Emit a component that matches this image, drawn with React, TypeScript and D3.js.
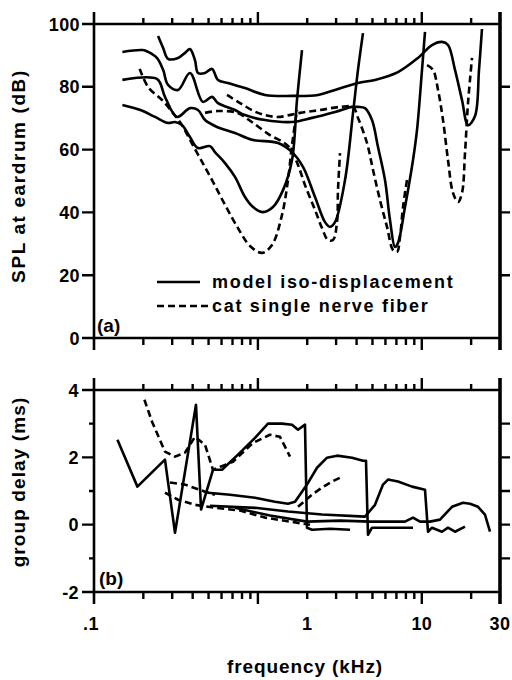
import React from "react";
import * as d3 from "d3";

type P = [number, number];

// ---------- Panel (a): SPL at eardrum (dB) vs frequency (kHz) ----------
const modelA1: P[] = [
  [0.246, 96.2], [0.264, 92.4], [0.283, 88.9], [0.326, 89.2], [0.359, 90.8], [0.385, 92.0],
  [0.413, 88.5], [0.431, 84.4], [0.476, 84.4], [0.525, 85.7], [0.571, 82.2], [0.657, 81.2],
  [0.834, 79.6], [1.105, 77.4], [1.615, 77.1], [2.327, 77.4], [2.954, 79.0], [4.08, 81.2],
  [5.182, 82.2], [7.158, 84.7], [9.48, 89.2], [11.54, 93.3], [13.28, 94.3], [14.45, 93.3],
  [15.94, 85.4], [17.59, 75.8], [19.14, 67.8], [21.12, 70.7], [22.34, 85.4], [23.29, 98.4],
];
const modelA2: P[] = [
  [0.149, 91.1], [0.198, 91.7], [0.214, 91.1], [0.242, 89.2], [0.264, 85.4], [0.283, 80.6],
  [0.326, 79.0], [0.385, 84.4], [0.462, 75.2], [0.525, 76.8], [0.571, 74.8], [0.725, 72.6],
  [0.834, 71.0], [1.105, 69.4], [1.615, 68.8], [2.138, 70.1], [2.954, 72.0], [3.752, 73.6],
  [4.08, 73.6], [4.502, 73.2], [4.968, 69.4], [5.405, 60.8], [5.963, 50.3], [6.397, 37.6],
  [6.862, 29.0], [7.158, 30.3], [7.898, 41.7], [8.838, 56.7], [9.348, 66.2], [10.03, 85.4],
  [10.46, 97.5],
];
const modelA3: P[] = [
  [0.149, 82.2], [0.242, 82.5], [0.271, 76.8], [0.321, 70.4], [0.385, 73.2], [0.431, 72.6],
  [0.476, 69.4], [0.563, 67.2], [0.725, 65.3], [0.921, 63.1], [1.326, 62.1], [1.615, 59.2],
  [1.884, 54.5], [2.231, 44.9], [2.567, 36.9], [2.754, 35.4], [2.954, 36.9], [3.4, 50.3],
  [3.805, 71.7], [4.08, 85.4], [4.377, 97.1],
];
const modelA4: P[] = [
  [0.149, 74.2], [0.192, 72.6], [0.236, 70.4], [0.283, 68.5], [0.312, 68.8], [0.344, 67.8],
  [0.385, 64.0], [0.431, 60.5], [0.51, 61.1], [0.547, 59.2], [0.63, 55.7], [0.725, 51.3],
  [0.834, 44.9], [0.934, 41.7], [1.074, 40.1], [1.236, 41.7], [1.423, 47.1], [1.615, 56.7],
  [1.732, 75.8], [1.858, 91.7],
];
const catA1: P[] = [
  [0.19, 85.7], [0.214, 79.9], [0.26, 75.8], [0.303, 71.7], [0.344, 67.8], [0.385, 63.1],
  [0.443, 57.3], [0.525, 50.3], [0.63, 42.4], [0.756, 35.0], [0.895, 29.3], [1.059, 27.1],
  [1.219, 29.6], [1.403, 39.2], [1.526, 50.3], [1.615, 61.5], [1.732, 72.6],
];
const catA2: P[] = [
  [0.648, 77.4], [0.778, 74.8], [1.001, 71.7], [1.308, 70.4], [1.807, 71.7], [2.393, 72.6],
  [3.169, 73.6], [3.805, 73.6], [4.08, 70.1], [4.63, 62.1], [5.039, 53.5], [5.559, 43.9],
  [6.133, 35.4], [6.672, 28.0], [7.058, 27.4], [7.362, 32.2], [7.679, 41.7], [8.123, 50.3],
];
const catA3: P[] = [
  [0.476, 71.7], [0.571, 72.3], [0.746, 71.7], [0.934, 68.5], [1.185, 64.6], [1.423, 62.4],
  [1.57, 60.5], [1.757, 55.1], [1.938, 48.7], [2.231, 40.8], [2.461, 35.0], [2.677, 31.2],
  [2.872, 31.2], [3.038, 36.9], [3.081, 47.1], [3.169, 58.9],
];
const catA4: P[] = [
  [10.76, 86.9], [11.7, 85.4], [12.56, 79.0], [13.47, 69.4], [14.45, 56.7], [15.5, 46.2],
  [16.63, 43.3], [17.59, 46.2], [18.35, 58.9], [19.14, 74.8], [20.25, 89.2],
];

// ---------- Panel (b): group delay (ms) vs frequency (kHz) ----------
const modelB1: P[] = [
  [0.139, 2.52], [0.184, 1.13], [0.271, 1.93], [0.312, -0.24], [0.419, 3.56], [0.45, 0.45],
  [0.532, 1.63], [0.604, 1.63], [0.756, 2.08], [0.96, 2.58], [1.152, 3.0], [1.403, 3.0],
  [1.615, 2.97], [1.757, 2.82], [1.938, 2.97], [1.993, -0.09], [2.138, -0.15], [2.754, -0.12],
  [3.648, -0.15],
];
const modelB2: P[] = [
  [0.496, 0.95], [0.676, 0.89], [0.96, 0.8], [1.271, 0.68], [1.526, 0.62], [1.684, 0.68],
  [1.858, 0.98], [1.993, 1.19], [2.294, 1.69], [2.64, 1.99], [3.038, 2.05], [3.752, 1.99],
  [4.377, 1.9], [4.566, 1.9], [4.695, -0.3], [4.968, -0.09], [6.397, -0.09], [8.838, -0.09],
];
const modelB3: P[] = [
  [0.51, 0.56], [0.96, 0.5], [1.526, 0.39], [2.461, 0.3], [4.502, 0.24], [5.182, 0.59],
  [5.798, 1.19], [6.219, 1.34], [7.158, 1.28], [8.714, 1.13], [10.46, 1.04], [10.91, -0.21],
  [11.54, -0.09], [13.28, -0.21], [14.45, -0.09], [15.94, -0.21], [18.35, -0.06],
];
const modelB4: P[] = [
  [0.725, 0.5], [1.185, 0.27], [1.993, 0.09], [3.169, 0.12], [4.831, 0.09], [7.898, 0.09],
  [8.838, 0.21], [9.75, 0.09], [11.22, 0.09], [12.91, 0.15], [15.29, 0.53], [17.84, 0.65],
  [19.69, 0.62], [22.03, 0.53], [24.29, 0.3], [26.07, -0.21],
];
const catB1: P[] = [
  [0.203, 3.71], [0.226, 3.06], [0.271, 2.17], [0.312, 2.02], [0.359, 2.14], [0.413, 2.61],
  [0.476, 2.37], [0.532, 1.63], [0.705, 1.87], [0.934, 2.43], [1.185, 2.67], [1.364, 2.61],
  [1.57, 2.02],
];
const catB2: P[] = [[0.291, 1.25], [0.359, 1.19], [0.476, 0.98], [0.547, 0.89]];
const catB3: P[] = [
  [0.271, 0.95], [0.326, 0.74], [0.413, 0.59], [0.547, 0.5], [0.778, 0.42], [1.105, 0.21],
  [1.57, 0.09], [2.079, 0.0],
];
const catB4: P[] = [[1.757, 0.53], [2.138, 0.89], [2.461, 1.1], [2.832, 1.28], [3.259, 1.42]];

// ---------- Axes ----------
const xMajor = [1, 10];
const xMinor = [0.2, 0.3, 0.4, 0.5, 0.6, 0.7, 0.8, 0.9, 2, 3, 4, 5, 6, 7, 8, 9, 20];
const xTickLabels = [
  { f: 0.1, t: ".1" },
  { f: 2, t: "1" },
  { f: 10, t: "10" },
  { f: 30, t: "30" },
];
const yTicksA = [0, 20, 40, 60, 80, 100];
const yRightA = [20, 40, 60, 80];
const yTicksB = [-2, 0, 2, 4];
const yMinorB = [-1, 1, 3];
const yRightB = [-1, 0, 1, 2, 3];

const FONT = "'Liberation Sans', Arial, Helvetica, sans-serif";

export default function App() {
  const x = d3.scaleLog().domain([0.1, 30]).range([94, 500]);
  const yA = d3.scaleLinear().domain([0, 100]).range([338, 24]);
  const yB = d3.scaleLinear().domain([-2, 4]).range([592, 390]);

  const lineA = d3
    .line<P>()
    .x((d) => x(d[0]))
    .y((d) => yA(d[1]))
    .curve(d3.curveCatmullRom.alpha(0.5));
  const lineB = d3
    .line<P>()
    .x((d) => x(d[0]))
    .y((d) => yB(d[1]));

  const xL = x(0.1);
  const xR = x(30);
  const lw = 2.6;

  const tickPath = (top: number, bottom: number) => {
    const p = d3.path();
    xMajor.forEach((f) => {
      const px = x(f);
      p.moveTo(px, top);
      p.lineTo(px, top - 12);
      p.moveTo(px, bottom);
      p.lineTo(px, bottom + 12);
    });
    xMinor.forEach((f) => {
      const px = x(f);
      p.moveTo(px, top);
      p.lineTo(px, top - 6);
      p.moveTo(px, bottom);
      p.lineTo(px, bottom + 7);
    });
    return p.toString();
  };
  const boxPath = (top: number, bottom: number) => {
    const p = d3.path();
    p.moveTo(xL, top);
    p.lineTo(xR, top);
    p.moveTo(xL, bottom);
    p.lineTo(xR, bottom);
    p.moveTo(xL, top - 12);
    p.lineTo(xL, bottom + 12);
    return p.toString();
  };
  const rightPath = (top: number, bottom: number) => {
    const p = d3.path();
    p.moveTo(xR, top - 12);
    p.lineTo(xR, bottom + 12);
    return p.toString();
  };
  const yTickPath = (vals: number[], sc: (v: number) => number, x0: number, x1: number) => {
    const p = d3.path();
    vals.forEach((v) => {
      p.moveTo(x0, sc(v));
      p.lineTo(x1, sc(v));
    });
    return p.toString();
  };

  const textStyle = {
    fontFamily: FONT,
    fontWeight: 700,
    fill: "#000",
  } as const;

  return (
    <svg
      width={512}
      height={680}
      viewBox="0 0 512 680"
      style={{ position: "absolute", left: 0, top: 0, background: "#fff" }}
    >
      <rect x={0} y={0} width={512} height={680} fill="#fff" />

      <g fill="none" stroke="#000">
        <path d={boxPath(yA(100), yA(0))} strokeWidth={2.6} />
        <path d={rightPath(yA(100), yA(0))} strokeWidth={3.6} />
        <path d={tickPath(yA(100), yA(0))} strokeWidth={2.4} />
        <path d={yTickPath(yTicksA, yA, xL, xL - 12)} strokeWidth={2.4} />
        <path d={yTickPath(yRightA, yA, xR, xR + 10)} strokeWidth={2.4} />

        <path d={boxPath(yB(4), yB(-2))} strokeWidth={2.6} />
        <path d={rightPath(yB(4), yB(-2))} strokeWidth={3.6} />
        <path d={tickPath(yB(4), yB(-2))} strokeWidth={2.4} />
        <path d={yTickPath(yTicksB, yB, xL, xL - 12)} strokeWidth={2.4} />
        <path d={yTickPath(yMinorB, yB, xL, xL - 5)} strokeWidth={2.4} />
        <path d={yTickPath(yRightB, yB, xR, xR + 10)} strokeWidth={2.4} />
      </g>

      {yTicksA.map((v) => (
        <text
          key={"ya" + v}
          x={80}
          y={yA(v) + 6.5}
          textAnchor="end"
          fontSize={18}
          letterSpacing={0.4}
          {...textStyle}
        >
          {v}
        </text>
      ))}
      {yTicksB.map((v) => (
        <text
          key={"yb" + v}
          x={79}
          y={yB(v) + 6.5}
          textAnchor="end"
          fontSize={18}
          letterSpacing={0.4}
          {...textStyle}
        >
          {v}
        </text>
      ))}

      {xTickLabels.map((d) => (
        <text
          key={"xl" + d.t}
          x={x(d.f) - (d.f === 0.1 ? 3 : 0)}
          y={630}
          textAnchor="middle"
          fontSize={18}
          letterSpacing={0.4}
          {...textStyle}
        >
          {d.t}
        </text>
      ))}

      {/* Axis titles */}
      <text x={305} y={673} textAnchor="middle" fontSize={19} letterSpacing={0.9} {...textStyle}>
        frequency (kHz)
      </text>
      <text
        transform="translate(25,176) rotate(-90)"
        textAnchor="middle"
        fontSize={19}
        letterSpacing={1.6}
        {...textStyle}
      >
        SPL at eardrum (dB)
      </text>
      <text
        transform="translate(25,482) rotate(-90)"
        textAnchor="middle"
        fontSize={19}
        letterSpacing={1.1}
        {...textStyle}
      >
        group delay (ms)
      </text>

      {/* Panel labels */}
      <text x={97} y={332} fontSize={19} {...textStyle}>
        (a)
      </text>
      <text x={99} y={585} fontSize={19} {...textStyle}>
        (b)
      </text>

      {/* Panel (a) curves */}
      <g fill="none" stroke="#000" strokeWidth={lw} strokeLinejoin="round">
        {[modelA1, modelA2, modelA3, modelA4].map((s, i) => (
          <path key={"ma" + i} d={lineA(s) || ""} />
        ))}
        {[catA1, catA2, catA3, catA4].map((s, i) => (
          <path key={"ca" + i} d={lineA(s) || ""} strokeDasharray="7 4" />
        ))}
      </g>

      {/* Panel (b) curves */}
      <g fill="none" stroke="#000" strokeWidth={lw} strokeLinejoin="round">
        {[modelB1, modelB2, modelB3, modelB4].map((s, i) => (
          <path key={"mb" + i} d={lineB(s) || ""} />
        ))}
        {[catB1, catB2, catB3, catB4].map((s, i) => (
          <path key={"cb" + i} d={lineB(s) || ""} strokeDasharray="7 4" />
        ))}
      </g>

      {/* Legend */}
      <g stroke="#000" strokeWidth={2.6}>
        <line x1={157} x2={200} y1={282} y2={282} />
        <line x1={157} x2={210} y1={306} y2={306} strokeDasharray="7 4" />
      </g>
      <text x={212} y={288} fontSize={18} letterSpacing={1.7} {...textStyle}>
        model iso-displacement
      </text>
      <text x={212} y={312} fontSize={18} letterSpacing={1.7} {...textStyle}>
        cat single nerve fiber
      </text>
    </svg>
  );
}
